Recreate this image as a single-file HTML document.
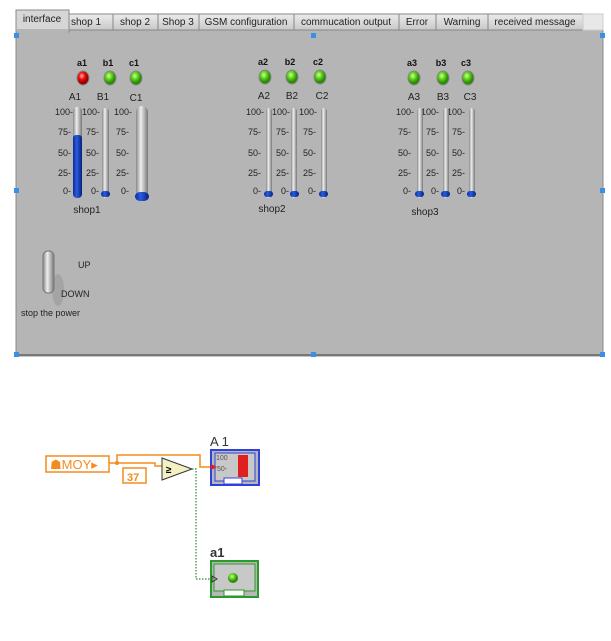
<!DOCTYPE html>
<html><head><style>
body{margin:0;width:611px;height:636px;background:#fff;overflow:hidden;font-family:"Liberation Sans",sans-serif}
svg text{font-family:"Liberation Sans",sans-serif}
</style></head><body>
<svg width="611" height="636" xmlns="http://www.w3.org/2000/svg">
<defs>
<linearGradient id="tube" x1="0" x2="1"><stop offset="0" stop-color="#888"/><stop offset=".4" stop-color="#eee"/><stop offset="1" stop-color="#777"/></linearGradient>
<linearGradient id="blue" x1="0" x2="1"><stop offset="0" stop-color="#0a2a9a"/><stop offset=".4" stop-color="#2b5ce0"/><stop offset="1" stop-color="#06207a"/></linearGradient>
<radialGradient id="grn" cx=".4" cy=".35"><stop offset="0" stop-color="#d8ffa0"/><stop offset=".5" stop-color="#5ed61a"/><stop offset="1" stop-color="#2c8a08"/></radialGradient>
<radialGradient id="red" cx=".4" cy=".35"><stop offset="0" stop-color="#ffb0b0"/><stop offset=".5" stop-color="#ee1010"/><stop offset="1" stop-color="#900"/></radialGradient>
<linearGradient id="tab" x1="0" y1="0" x2="0" y2="1"><stop offset="0" stop-color="#ececec"/><stop offset="1" stop-color="#c8c8c8"/></linearGradient>
</defs>
<!-- panel -->
<rect x="16" y="30" width="587" height="326" fill="#b5b5b5" stroke="#888"/>
<line x1="16" y1="355" x2="603" y2="355" stroke="#777" stroke-width="2"/>
<!-- tabs -->
<g font-size="10" fill="#222" stroke="none">
<rect x="60" y="14" width="53" height="16" fill="url(#tab)" stroke="#888"/><text x="86" y="25" text-anchor="middle">shop 1</text>
<rect x="113" y="14" width="45" height="16" fill="url(#tab)" stroke="#888"/><text x="135" y="25" text-anchor="middle">shop 2</text>
<rect x="158" y="14" width="41" height="16" fill="url(#tab)" stroke="#888"/><text x="178" y="25" text-anchor="middle">Shop 3</text>
<rect x="199" y="14" width="95" height="16" fill="url(#tab)" stroke="#888"/><text x="246" y="25" text-anchor="middle">GSM configuration</text>
<rect x="294" y="14" width="105" height="16" fill="url(#tab)" stroke="#888"/><text x="346" y="25" text-anchor="middle">commucation output</text>
<rect x="399" y="14" width="37" height="16" fill="url(#tab)" stroke="#888"/><text x="417" y="25" text-anchor="middle">Error</text>
<rect x="436" y="14" width="52" height="16" fill="url(#tab)" stroke="#888"/><text x="462" y="25" text-anchor="middle">Warning</text>
<rect x="488" y="14" width="95" height="16" fill="url(#tab)" stroke="#888"/><text x="535" y="25" text-anchor="middle">received  message</text>
<rect x="583" y="14" width="20" height="16" fill="#e8e8e8" stroke="#ccc"/>
<rect x="16" y="10" width="53" height="22" fill="#d6d6d6" stroke="#888"/><rect x="17" y="29" width="51" height="4" fill="#b5b5b5"/>
<text x="42" y="22" text-anchor="middle">interface</text>
</g>
<!-- handles -->
<g fill="#3b8fe8"><rect x="14" y="33" width="5" height="5"/><rect x="311" y="33" width="5" height="5"/><rect x="600" y="33" width="5" height="5"/><rect x="14" y="188" width="5" height="5"/><rect x="600" y="188" width="5" height="5"/><rect x="14" y="352" width="5" height="5"/><rect x="311" y="352" width="5" height="5"/><rect x="600" y="352" width="5" height="5"/></g>
<!-- LEDs -->
<g font-size="9" font-weight="bold" text-anchor="middle" fill="#111">
<text x="82" y="66">a1</text><text x="108" y="66">b1</text><text x="134" y="66">c1</text>
<text x="263" y="65">a2</text><text x="290" y="65">b2</text><text x="318" y="65">c2</text>
<text x="412" y="66">a3</text><text x="441" y="66">b3</text><text x="466" y="66">c3</text>
</g>
<g stroke="#888" stroke-width="1">
<ellipse cx="83" cy="78" rx="6" ry="7" fill="url(#red)"/><ellipse cx="110" cy="78" rx="6" ry="7" fill="url(#grn)"/><ellipse cx="136" cy="78" rx="6" ry="7" fill="url(#grn)"/>
<ellipse cx="265" cy="77" rx="6" ry="7" fill="url(#grn)"/><ellipse cx="292" cy="77" rx="6" ry="7" fill="url(#grn)"/><ellipse cx="320" cy="77" rx="6" ry="7" fill="url(#grn)"/>
<ellipse cx="414" cy="78" rx="6" ry="7" fill="url(#grn)"/><ellipse cx="443" cy="78" rx="6" ry="7" fill="url(#grn)"/><ellipse cx="468" cy="78" rx="6" ry="7" fill="url(#grn)"/>
</g>
<g font-size="10" text-anchor="middle" fill="#222">
<text x="75" y="100">A1</text><text x="103" y="100">B1</text><text x="136" y="101">C1</text>
<text x="264" y="99">A2</text><text x="292" y="99">B2</text><text x="322" y="99">C2</text>
<text x="414" y="100">A3</text><text x="443" y="100">B3</text><text x="470" y="100">C3</text>
<text x="87" y="213">shop1</text><text x="272" y="212">shop2</text><text x="425" y="215">shop3</text>
</g>
<!-- scales -->
<g font-size="9" text-anchor="end" fill="#222">
<text x="73" y="115">100-</text><text x="71" y="135">75-</text><text x="71" y="156">50-</text><text x="71" y="176">25-</text><text x="71" y="194">0-</text>
<text x="100" y="115">100-</text><text x="99" y="135">75-</text><text x="99" y="156">50-</text><text x="99" y="176">25-</text><text x="99" y="194">0-</text>
<text x="132" y="115">100-</text><text x="129" y="135">75-</text><text x="129" y="156">50-</text><text x="129" y="176">25-</text><text x="129" y="194">0-</text>
<text x="264" y="115">100-</text><text x="261" y="135">75-</text><text x="261" y="156">50-</text><text x="261" y="176">25-</text><text x="261" y="194">0-</text>
<text x="290" y="115">100-</text><text x="289" y="135">75-</text><text x="289" y="156">50-</text><text x="289" y="176">25-</text><text x="289" y="194">0-</text>
<text x="317" y="115">100-</text><text x="316" y="135">75-</text><text x="316" y="156">50-</text><text x="316" y="176">25-</text><text x="316" y="194">0-</text>
<text x="414" y="115">100-</text><text x="411" y="135">75-</text><text x="411" y="156">50-</text><text x="411" y="176">25-</text><text x="411" y="194">0-</text>
<text x="439" y="115">100-</text><text x="439" y="135">75-</text><text x="439" y="156">50-</text><text x="439" y="176">25-</text><text x="439" y="194">0-</text>
<text x="465" y="115">100-</text><text x="465" y="135">75-</text><text x="465" y="156">50-</text><text x="465" y="176">25-</text><text x="465" y="194">0-</text>
</g>
<!-- tubes -->
<g>
<rect x="73" y="107" width="9" height="91" rx="4" fill="url(#tube)"/><rect x="73" y="160" width="9" height="38" rx="3" fill="url(#blue)" transform="translate(0,-25) scale(1,1)"/><rect x="73" y="160" width="9" height="38" rx="4" fill="url(#blue)"/>
<rect x="102" y="108" width="7" height="90" rx="3" fill="url(#tube)"/><rect x="101" y="191" width="9" height="6" rx="3" fill="url(#blue)"/>
<rect x="136" y="106" width="12" height="95" rx="6" fill="url(#tube)"/><rect x="135" y="192" width="14" height="9" rx="5" fill="url(#blue)"/>
<rect x="266" y="108" width="6" height="90" rx="3" fill="url(#tube)"/><rect x="264" y="191" width="9" height="6" rx="3" fill="url(#blue)"/>
<rect x="291" y="108" width="6" height="90" rx="3" fill="url(#tube)"/><rect x="290" y="191" width="9" height="6" rx="3" fill="url(#blue)"/>
<rect x="321" y="108" width="6" height="90" rx="3" fill="url(#tube)"/><rect x="319" y="191" width="9" height="6" rx="3" fill="url(#blue)"/>
<rect x="417" y="108" width="6" height="90" rx="3" fill="url(#tube)"/><rect x="415" y="191" width="9" height="6" rx="3" fill="url(#blue)"/>
<rect x="443" y="108" width="6" height="90" rx="3" fill="url(#tube)"/><rect x="441" y="191" width="9" height="6" rx="3" fill="url(#blue)"/>
<rect x="469" y="108" width="6" height="90" rx="3" fill="url(#tube)"/><rect x="467" y="191" width="9" height="6" rx="3" fill="url(#blue)"/>
</g>
<!-- switch -->
<ellipse cx="58" cy="290" rx="6" ry="16" fill="#999" opacity=".6"/>
<rect x="43" y="251" width="11" height="42" rx="5" fill="url(#tube)" stroke="#777"/>
<g font-size="9" fill="#222"><text x="78" y="268">UP</text><text x="61" y="297">DOWN</text><text x="21" y="316">stop the power</text></g>
<!-- block diagram -->
<g fill="none" stroke="#f28c1e" stroke-width="1.5">
<rect x="46" y="456" width="63" height="16" fill="#fff"/>
<rect x="123" y="468" width="23" height="15" fill="#fff"/>
<polyline points="109,463 117,463 117,455 200,455 200,467 211,467"/>
<polyline points="117,463 155,463 155,466 162,466"/>
</g>
<circle cx="117" cy="463" r="2" fill="#f28c1e"/>
<text x="50" y="469" font-size="13" fill="#f28c1e">&#9751;MOY&#9656;</text>
<text x="127" y="481" font-size="11" font-weight="bold" fill="#f28c1e">37</text>
<polygon points="162,458 162,480 192,469" fill="#f3f0c2" stroke="#333"/>
<text x="166" y="473" font-size="10" font-weight="bold">≥</text>
<polyline points="192,469 196,469 196,579 211,579" fill="none" stroke="#2a8a2a" stroke-dasharray="1.5,1.5" stroke-width="1.2"/>
<text x="210" y="446" font-size="13" fill="#333">A 1</text>
<rect x="211" y="450" width="48" height="35" fill="#b7b7b7" stroke="#3040e0" stroke-width="2"/>
<rect x="215" y="453" width="40" height="28" fill="#c8c8c8" stroke="#3040e0"/>
<rect x="238" y="455" width="10" height="22" fill="#e02020"/>
<text x="217" y="471" font-size="7" fill="#555">50-</text><text x="216" y="460" font-size="7" fill="#555">100</text>
<rect x="224" y="478" width="18" height="6" fill="#fff" stroke="#3040e0"/>
<polygon points="211,464 217,467 211,470" fill="#e02020"/>
<text x="210" y="557" font-size="13" font-weight="bold" fill="#333">a1</text>
<rect x="211" y="561" width="47" height="36" fill="#b7b7b7" stroke="#2a9a2a" stroke-width="2"/>
<rect x="214" y="564" width="41" height="27" fill="#c8c8c8" stroke="#2a9a2a"/>
<circle cx="233" cy="578" r="5" fill="url(#grn)"/>
<rect x="224" y="590" width="20" height="6" fill="#fff" stroke="#2a9a2a"/>
<polygon points="212,576 217,579 212,582" fill="none" stroke="#333"/>
</svg>
</body></html>
